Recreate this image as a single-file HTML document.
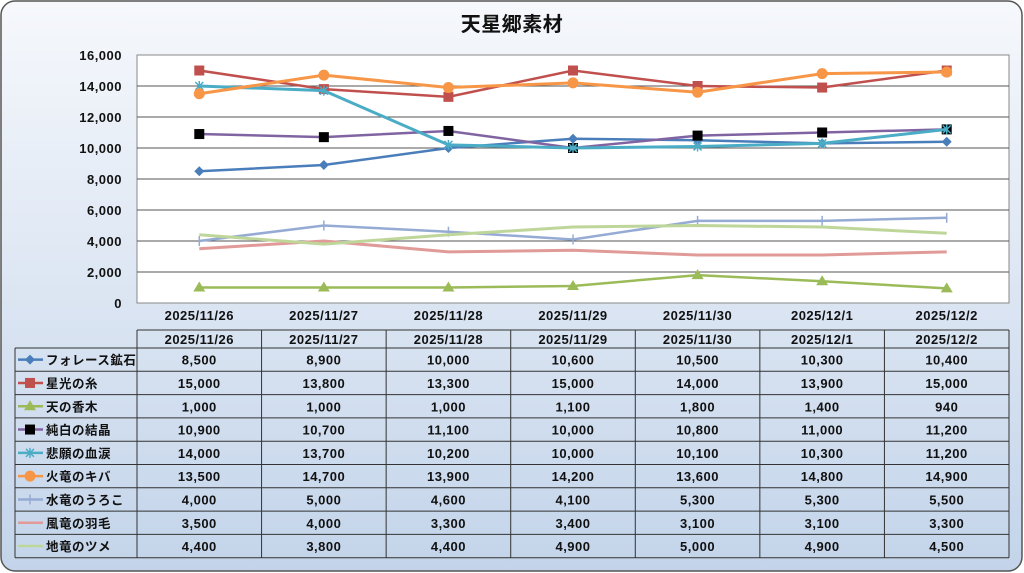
<!DOCTYPE html>
<html><head><meta charset="utf-8"><style>
html,body{margin:0;padding:0;width:1024px;height:573px;overflow:hidden;background:#fff}
svg{display:block}
text{font-family:"Liberation Sans","Noto Sans CJK JP",sans-serif;fill:#111;font-weight:bold;letter-spacing:0.5px}
</style></head><body>
<svg id="chart" width="1024" height="573" xmlns="http://www.w3.org/2000/svg">
<defs><linearGradient id="bg" x1="0" y1="0" x2="0" y2="1"><stop offset="0" stop-color="#f6f8fc"/><stop offset="1" stop-color="#c3d4ea"/></linearGradient></defs>
<rect x="1" y="1" width="1021" height="570" rx="14" fill="url(#bg)" stroke="#555" stroke-width="1.5"/>
<text x="512" y="31" text-anchor="middle" font-size="20" font-weight="bold">天星郷素材</text>
<rect x="137" y="55" width="872" height="248" fill="#fff" stroke="#888"/>
<g id="grid"></g><g id="series"></g><g id="table"></g>
</svg>
<script>
const categories=["2025/11/26","2025/11/27","2025/11/28","2025/11/29","2025/11/30","2025/12/1","2025/12/2"];
const seriesNames=["フォレース鉱石","星光の糸","天の香木","純白の結晶","悲願の血涙","火竜のキバ","水竜のうろこ","風竜の羽毛","地竜のツメ"];
const s0=[8500,8900,10000,10600,10500,10300,10400];
const s1=[15000,13800,13300,15000,14000,13900,15000];
const s2=[1000,1000,1000,1100,1800,1400,940];
const s3=[10900,10700,11100,10000,10800,11000,11200];
const s4=[14000,13700,10200,10000,10100,10300,11200];
const s5=[13500,14700,13900,14200,13600,14800,14900];
const s6=[4000,5000,4600,4100,5300,5300,5500];
const s7=[3500,4000,3300,3400,3100,3100,3300];
const s8=[4400,3800,4400,4900,5000,4900,4500];
const yTicks=[0,2000,4000,6000,8000,10000,12000,14000,16000];
const allSeries=[s0,s1,s2,s3,s4,s5,s6,s7,s8];
const colors=["#4a7ebb","#c0504d","#9bbb59","#8064a2","#4bacc6","#f79646","#95abd4","#e09a98","#bfd69a"];
const markers=["diamond","square","triangle","bsquare","star","circle","plus","none","none"];
const widths=[2.5,2.5,2.5,2.5,3,3,2.5,3,3];
const NS="http://www.w3.org/2000/svg";
const L=137,W=872,T=55,B=303,ymax=16000;
const step=W/categories.length;
const xs=i=>L+step*(i+0.5);
const ys=v=>B-(v/ymax)*(B-T);
function mk(tag,attrs,parent){const e=document.createElementNS(NS,tag);for(const k in attrs)e.setAttribute(k,attrs[k]);parent.appendChild(e);return e;}
const grid=document.getElementById('grid');
yTicks.forEach(t=>{
  if(t>0&&t<ymax){const g=mk('line',{x1:L,x2:L+W,y1:ys(t),y2:ys(t),stroke:'#555','stroke-width':1},grid);
  
  }
  const tx=mk('text',{x:122,y:ys(t)+5,'text-anchor':'end','font-size':13},grid);tx.textContent=t.toLocaleString('en-US');
  
  
});
categories.forEach((c,i)=>{const tx=mk('text',{x:xs(i),y:320,'text-anchor':'middle','font-size':13},grid);tx.textContent=c;
  
  });
function marker(type,x,y,col,p){
  if(type==='diamond')mk('polygon',{points:`${x},${y-5} ${x+5},${y} ${x},${y+5} ${x-5},${y}`,fill:col},p);
  else if(type==='square')mk('rect',{x:x-5,y:y-5,width:10,height:10,fill:col},p);
  else if(type==='bsquare')mk('rect',{x:x-5,y:y-5,width:10,height:10,fill:'#000'},p);
  else if(type==='triangle')mk('polygon',{points:`${x},${y-6} ${x+6},${y+4} ${x-6},${y+4}`,fill:col},p);
  else if(type==='circle')mk('circle',{cx:x,cy:y,r:5.5,fill:col},p);
  else if(type==='star'){mk('path',{d:`M${x-4},${y-4}L${x+4},${y+4}M${x+4},${y-4}L${x-4},${y+4}M${x},${y-5}L${x},${y+5}`,stroke:col,'stroke-width':1.5},p);}
  else if(type==='plus')mk('path',{d:`M${x},${y-5}L${x},${y+5}`,stroke:col,'stroke-width':1.5},p);
}
const sg=document.getElementById('series');
allSeries.forEach((arr,si)=>{
  const g=mk('g',{},sg);
  
  
  mk('polyline',{points:arr.map((v,i)=>xs(i)+','+ys(v)).join(' '),fill:'none',stroke:colors[si],'stroke-width':widths[si]},g);
  arr.forEach((v,i)=>marker(markers[si],xs(i),ys(v),colors[si],g));
});
const tb=document.getElementById('table');
const tTop=330,hH=18,rH=23.3,tL=15;
const tBot=tTop+hH+rH*seriesNames.length;
mk('path',{d:`M${L},${tTop}H${L+W}M${tL},${tTop+hH}H${L+W}`,stroke:'#333',fill:'none'},tb);
for(let r=1;r<=seriesNames.length;r++)mk('line',{x1:tL,x2:L+W,y1:tTop+hH+rH*r,y2:tTop+hH+rH*r,stroke:'#333'},tb);
mk('line',{x1:tL,x2:tL,y1:tTop+hH,y2:tBot,stroke:'#333'},tb);
for(let i=0;i<=categories.length;i++)mk('line',{x1:L+step*i,x2:L+step*i,y1:tTop,y2:tBot,stroke:'#333'},tb);
categories.forEach((c,i)=>{const tx=mk('text',{x:xs(i),y:tTop+14,'text-anchor':'middle','font-size':13},tb);tx.textContent=c;
  
  });
seriesNames.forEach((n,si)=>{
  const cy=tTop+hH+rH*si+rH/2;
  mk('line',{x1:18,x2:43,y1:cy,y2:cy,stroke:colors[si],'stroke-width':2.5},tb);
  marker(markers[si],30,cy,colors[si],tb);
  const tx=mk('text',{x:46,y:cy+5,'font-size':12.5},tb);tx.textContent=n;
  
  
  allSeries[si].forEach((v,i)=>{const t=mk('text',{x:xs(i),y:cy+5,'text-anchor':'middle','font-size':13},tb);t.textContent=v.toLocaleString('en-US');
    
    });
});
</script>
</body></html>
